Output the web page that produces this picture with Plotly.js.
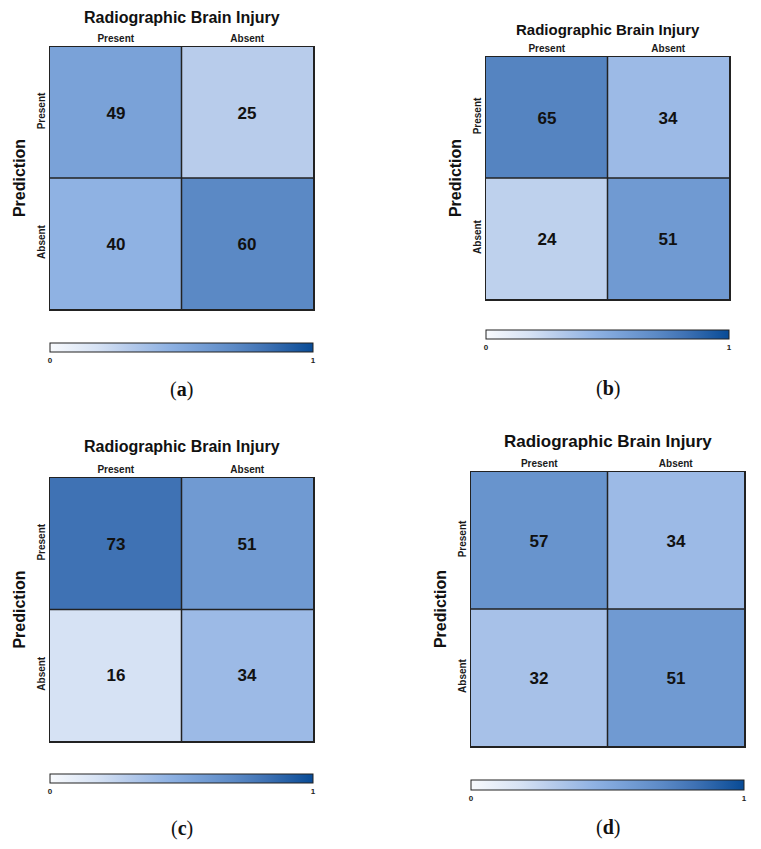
<!DOCTYPE html>
<html>
<head>
<meta charset="utf-8">
<script src="https://cdn.plot.ly/plotly-3.0.1.min.js"></script>
<style>
  html, body { margin: 0; padding: 0; background: #fff; }
  #chart { width: 761px; height: 849px; }
</style>
</head>
<body>
<div id="chart"></div>
<script>
// categories (actual on x, prediction on y)
let actualLabels = ["Present", "Absent"];
let predictionLabels = ["Present", "Absent"];

// counts per panel, rows = prediction, cols = radiographic brain injury
let countsA = [[49, 25], [40, 60]];
let countsB = [[65, 34], [24, 51]];
let countsC = [[73, 51], [16, 34]];
let countsD = [[57, 34], [32, 51]];

let panelLetters = ["a", "b", "c", "d"];
let colorbarTicks = [0, 1];

const W = 761, H = 849;
function px(x) { return x / W; }
function py(y) { return 1 - y / H; }

// pixel boxes of each plot area [left, right, top, bottom]
let boxes = [
    [50, 313, 47, 309],
    [486, 729, 57, 299],
    [50, 313, 478, 741],
    [471, 744, 472, 746]
];
let titleY = [17, 29, 447, 441];
let titleSize = [16, 15, 16, 17];
let barTop = [343, 330, 774, 780];
let barThick = [9, 9, 9, 10];
let letterY = [390, 389, 828, 827];

let blues = [
    [0, "#f8fafd"],
    [0.18, "#d6e2f4"],
    [0.3, "#b6cbeb"],
    [0.45, "#8fb2e3"],
    [0.55, "#7aa2d8"],
    [0.7, "#5c8ac6"],
    [0.82, "#3f72b4"],
    [1, "#084b96"]
];

// colour = share of the column (each column of the ground truth sums to 1)
function columnShare(counts) {
    let totals = [0, 0];
    for (let r = 0; r < counts.length; r++) {
        for (let c = 0; c < counts[r].length; c++) totals[c] += counts[r][c];
    }
    return counts.map(row => row.map((v, c) => v / totals[c]));
}

let allCounts = [countsA, countsB, countsC, countsD];
let data = [];
let layout = {
    width: W,
    height: H,
    margin: {l: 0, r: 0, t: 0, b: 0},
    paper_bgcolor: "#ffffff",
    plot_bgcolor: "#ffffff",
    font: {family: "Liberation Sans, Arial, sans-serif", color: "#111"},
    showlegend: false,
    annotations: [],
    shapes: []
};

for (let i = 0; i < 4; i++) {
    let b = boxes[i];
    let sfx = i == 0 ? "" : String(i + 1);
    let counts = allCounts[i];

    data.push({
        type: "heatmap",
        x: actualLabels,
        y: predictionLabels,
        z: columnShare(counts),
        text: counts,
        texttemplate: "%{text}",
        textfont: {size: 17, weight: "bold", color: "#111"},
        xaxis: "x" + sfx,
        yaxis: "y" + sfx,
        zmin: 0,
        zmax: 1,
        colorscale: blues,
        hoverinfo: "none",
        colorbar: {
            orientation: "h",
            x: px((b[0] + b[1]) / 2),
            xanchor: "center",
            y: py(barTop[i]),
            yanchor: "top",
            len: (b[1] - b[0]) / W,
            lenmode: "fraction",
            thickness: barThick[i],
            thicknessmode: "pixels",
            xpad: 0,
            ypad: 0,
            outlinecolor: "#222",
            outlinewidth: 1,
            ticks: "",
            tickvals: colorbarTicks,
            ticktext: colorbarTicks.map(String),
            tickfont: {size: 8, weight: "bold", color: "#222"}
        }
    });

    layout["xaxis" + sfx] = {
        domain: [px(b[0]), px(b[1])],
        anchor: "y" + sfx,
        side: "top",
        type: "category",
        showgrid: false,
        zeroline: false,
        ticks: "",
        showline: true,
        mirror: true,
        linecolor: "#222",
        linewidth: 1.5,
        tickfont: {size: 10, weight: "bold", color: "#1a1a1a"},
        fixedrange: true
    };
    layout["yaxis" + sfx] = {
        domain: [py(b[3]), py(b[2])],
        anchor: "x" + sfx,
        type: "category",
        autorange: "reversed",
        showgrid: false,
        zeroline: false,
        ticks: "",
        tickangle: -90,
        showline: true,
        mirror: true,
        linecolor: "#222",
        linewidth: 1.5,
        tickfont: {size: 10, weight: "bold", color: "#1a1a1a"},
        title: {text: "Prediction", font: {size: 16, weight: "bold", color: "#111"}, standoff: 6},
        fixedrange: true
    };

    // dividers between the four cells
    layout.shapes.push({
        type: "line", xref: "x" + sfx + " domain", yref: "y" + sfx + " domain",
        x0: 0.5, x1: 0.5, y0: 0, y1: 1, line: {color: "#222", width: 1.5}
    });
    layout.shapes.push({
        type: "line", xref: "x" + sfx + " domain", yref: "y" + sfx + " domain",
        x0: 0, x1: 1, y0: 0.5, y1: 0.5, line: {color: "#222", width: 1.5}
    });

    layout.annotations.push({
        text: "<b>Radiographic Brain Injury</b>",
        xref: "paper", yref: "paper",
        x: px((b[0] + b[1]) / 2), y: py(titleY[i]),
        xanchor: "center", yanchor: "middle",
        showarrow: false,
        font: {size: titleSize[i], color: "#111"}
    });
    layout.annotations.push({
        text: "(<b>" + panelLetters[i] + "</b>)",
        xref: "paper", yref: "paper",
        x: px((b[0] + b[1]) / 2), y: py(letterY[i]),
        xanchor: "center", yanchor: "middle",
        showarrow: false,
        font: {family: "Liberation Serif, DejaVu Serif, serif", size: 20, color: "#111"}
    });
}

Plotly.newPlot("chart", data, layout, {displayModeBar: false, staticPlot: true});
</script>
</body>
</html>
